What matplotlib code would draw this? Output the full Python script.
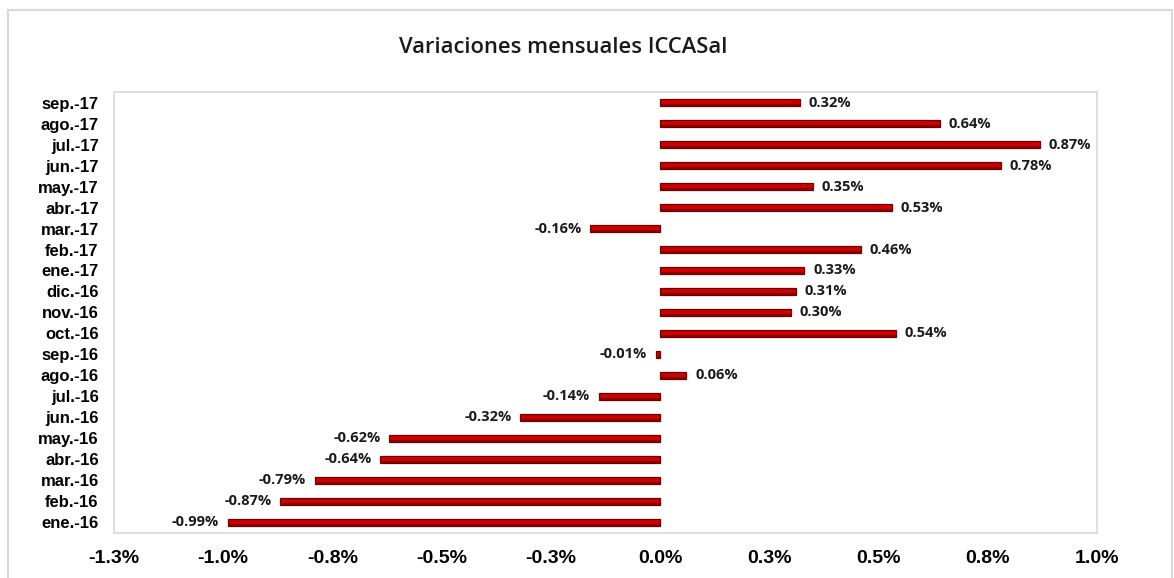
import numpy as np
import matplotlib
matplotlib.use('Agg')
from matplotlib import pyplot as plt
from matplotlib.patches import Rectangle
from matplotlib.ticker import FuncFormatter

# data (bottom to top, as drawn)
meses = ['ene.-16', 'feb.-16', 'mar.-16', 'abr.-16', 'may.-16', 'jun.-16',
         'jul.-16', 'ago.-16', 'sep.-16', 'oct.-16', 'nov.-16', 'dic.-16',
         'ene.-17', 'feb.-17', 'mar.-17', 'abr.-17', 'may.-17', 'jun.-17',
         'jul.-17', 'ago.-17', 'sep.-17']
variacion = [-0.99, -0.87, -0.79, -0.64, -0.62, -0.32,
             -0.14, 0.06, -0.01, 0.54, 0.30, 0.31,
             0.33, 0.46, -0.16, 0.53, 0.35, 0.78,
             0.87, 0.64, 0.32]
xticks = [-1.25, -1.0, -0.75, -0.5, -0.25, 0.0, 0.25, 0.5, 0.75, 1.0]


def pct(x, p):
    # excel style rounding, half away from zero
    r = np.sign(x) * np.floor(abs(x) * 10 + 0.5 + 1e-9) / 10
    return f'{r + 0.0:.1f}%'


fig = plt.figure(figsize=(11.74, 5.78), dpi=100)
ax = fig.add_axes([0.0971, 0.0779, 0.8373, 0.7629])

# outer chart border
fig.patches.append(Rectangle((8 / 1174, -0.01), 1164 / 1174, 1 - 10 / 578 + 0.01,
                             transform=fig.transFigure, fill=False,
                             edgecolor='#D9D9D9', linewidth=1.5, clip_on=False))

y = np.arange(len(meses))
h = 0.36
ax.barh(y, variacion, height=h, color='#CC0000', edgecolor='#6E0000',
        linewidth=0.9, zorder=2)
# darker lower strip to fake the 3D look
ax.barh(y - h * 0.3, variacion, height=h * 0.25, color='#8B0000',
        linewidth=0, zorder=3)

for yi, v in zip(y, variacion):
    if v >= 0:
        ax.text(v + 0.02, yi, f'{v:.2f}%', ha='left', va='center',
                fontsize=10.5, fontweight='bold', family='Open Sans', color='#1a1a1a')
    else:
        ax.text(v - 0.02, yi, f'{v:.2f}%', ha='right', va='center',
                fontsize=10.5, fontweight='bold', family='Open Sans', color='#1a1a1a')

ax.set_xlim(-1.25, 1.0)
ax.set_ylim(-0.5, len(meses) - 0.5)
ax.set_xticks(xticks)
ax.xaxis.set_major_formatter(FuncFormatter(pct))
ax.set_yticks(y)
ax.set_yticklabels(meses)
ax.tick_params(axis='y', length=0, pad=11, labelsize=12)
ax.tick_params(axis='x', length=0, pad=12, labelsize=14)
for lab in ax.get_xticklabels() + ax.get_yticklabels():
    lab.set_fontfamily('Liberation Sans')
    lab.set_fontweight('bold')
for s in ax.spines.values():
    s.set_color('#D9D9D9')
    s.set_linewidth(1.2)

fig.text(0.48, 0.918, 'Variaciones mensuales ICCASal', ha='center', va='center',
         fontsize=15.8, family='Open Sans', fontweight='semibold', color='#1a1a1a')

plt.savefig('out.png', dpi=100)
